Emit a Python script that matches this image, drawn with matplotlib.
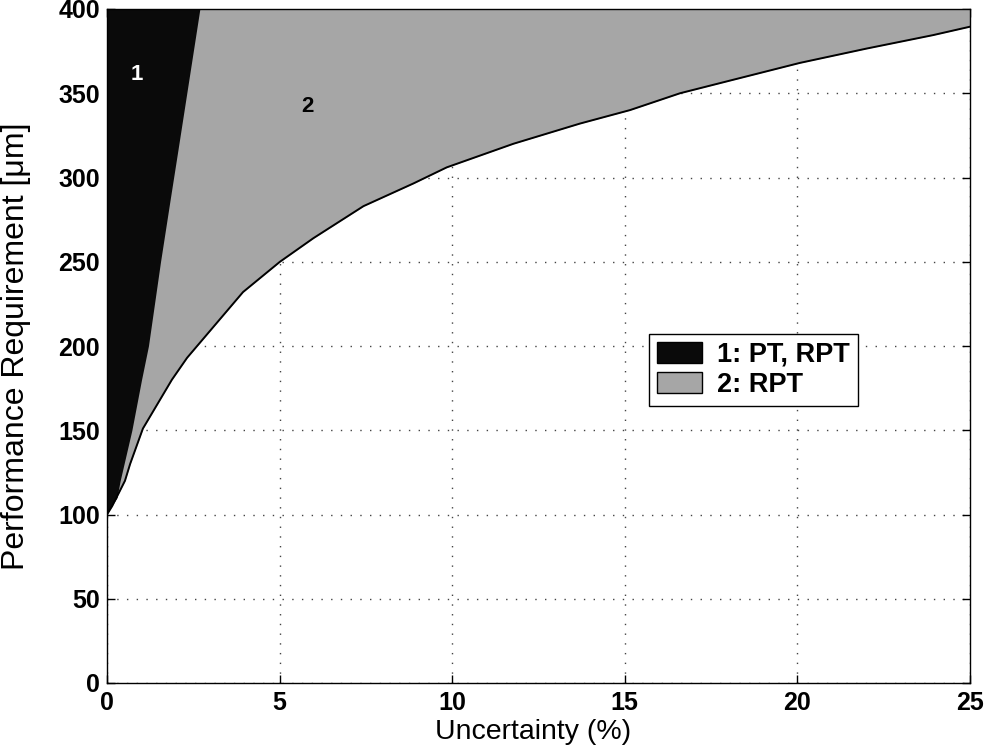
import numpy as np
import matplotlib.pyplot as plt
from matplotlib.patches import Patch

plt.rcParams['font.family'] = ['Liberation Sans', 'DejaVu Sans']

# lower boundary of region 2 (uncertainty %, requirement um)
curve_x = [0, 0.15, 0.52, 0.67, 1.04, 1.88, 2.32, 3.94, 5.01, 5.98, 7.43, 8.88,
           9.84, 11.77, 13.7, 15.15, 16.6, 18.14, 20.07, 22.0, 23.93, 25]
curve_y = [100, 105, 120, 130, 151, 180, 193, 232, 250, 264, 283, 296.5,
           306, 320, 332, 340, 350, 358, 368, 376.5, 384.5, 389.5]

# right edge of region 1
edge_y = [100, 104, 110, 120, 150, 180, 200, 250, 287, 317, 400]
edge_x = [0, 0.1, 0.29, 0.38, 0.72, 1.0, 1.2, 1.55, 1.83, 2.06, 2.69]

labels = ['1: PT, RPT', '2: RPT']
gray = '#a6a6a6'
black = '#0a0a0a'

fig = plt.figure(figsize=(9.85, 7.53), dpi=100)
ax = fig.add_axes([107/985, 1 - 683/753, 863/985, 674/753])

ax.fill_between(curve_x, curve_y, 400, color=gray, lw=0, zorder=1)
ax.fill_betweenx(edge_y, 0, edge_x, color=black, lw=0, zorder=2)
ax.plot(curve_x, curve_y, color='k', lw=1.4, zorder=3)

ax.text(0.87, 361, '1', color='white', fontsize=16, fontweight='bold',
        ha='center', va='center', zorder=4)
ax.text(5.8, 342, '2', color='black', fontsize=16, fontweight='bold',
        ha='center', va='center', zorder=4)

ax.set_xlim(0, 25)
ax.set_ylim(0, 400)
ax.set_xticks(np.arange(0, 26, 5))
ax.set_yticks(np.arange(0, 401, 50))
ax.set_axisbelow(True)
ax.grid(True, linestyle=(0, (1, 6)), color='#444444', lw=1.0)

ax.tick_params(direction='in', length=6, width=1, top=True, right=True,
               labelsize=18)
ax.tick_params(axis='x', pad=6)
ax.tick_params(axis='y', pad=5)
for t in ax.get_xticklabels() + ax.get_yticklabels():
    t.set_fontweight('bold')
for s in ax.spines.values():
    s.set_linewidth(1.0)
    s.set_zorder(5)

ax.set_xlabel('Uncertainty (%)', fontsize=20.5, va='top')
ax.xaxis.set_label_coords(0.494, -0.054)
ax.set_ylabel('Performance Requirement [\u03bcm]', fontsize=23)
ax.yaxis.set_label_coords(-0.088, 0.5)

handles = [Patch(facecolor=black, edgecolor='k'), Patch(facecolor=gray, edgecolor='k')]
leg = ax.legend(handles, labels, loc='upper left', bbox_to_anchor=(0.628, 0.518),
                prop={'weight': 'bold', 'size': 19.5}, fancybox=False,
                edgecolor='k', framealpha=1, borderpad=0.3, labelspacing=0.15,
                handlelength=1.65, handleheight=0.8, handletextpad=0.55,
                borderaxespad=0)
leg.get_frame().set_linewidth(1.0)

fig.savefig('out.png', dpi=100)
